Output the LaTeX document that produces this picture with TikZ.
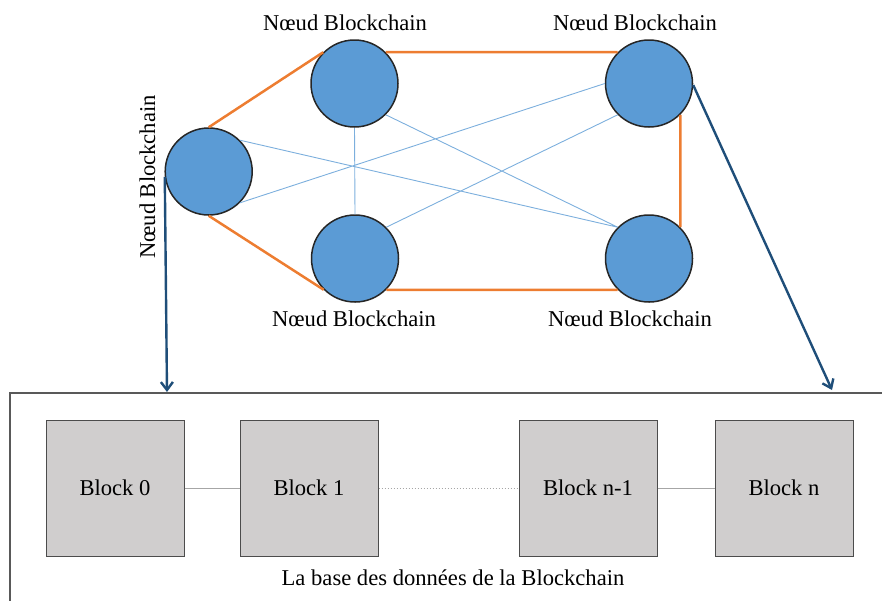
\documentclass[tikz,border=0pt]{standalone}
\usepackage{fontspec}
\setmainfont{Liberation Serif}
\usepackage{tikz}
\usetikzlibrary{shapes,arrows.meta}
\definecolor{nodeblue}{HTML}{5B9BD5}
\definecolor{linkorange}{HTML}{ED7D31}
\definecolor{arrowblue}{HTML}{1F4E79}
\definecolor{blockgray}{HTML}{D0CECE}
\tikzstyle{noeud} = [draw=black!85, fill=nodeblue, circle, line width=0.75pt, minimum size=43.5pt, inner sep=0pt]
\tikzstyle{block} = [draw=black!70, fill=blockgray, minimum width=69pt, minimum height=68pt, inner sep=0pt, line width=0.5pt]
\tikzstyle{lien} = [draw=linkorange, line width=1.25pt]
\tikzstyle{pair} = [draw=nodeblue!80, line width=0.45pt]
\tikzstyle{chaine} = [draw=black!35, line width=0.5pt]
\tikzstyle{fleche} = [draw=arrowblue, line width=1.2pt, ->]
\tikzstyle{cadre} = [draw=black!65, line width=0.7pt]
\tikzstyle{etiq} = [draw=none, anchor=base, inner sep=0pt]

\begin{document}
\begin{tikzpicture}[x=0.5pt,y=-0.5pt,>={Straight Barb[length=4pt,width=6pt]},font={\fontsize{11.3pt}{13pt}\selectfont}]
  \useasboundingbox (0,0) rectangle (882,601);

  % les noeuds du reseau
  \node[noeud] (L) at (208.7,171.5) {};
  \node[noeud] (TL) at (354.5,83.5) {};
  \node[noeud] (TR) at (649,83.5) {};
  \node[noeud] (BL) at (355,258.5) {};
  \node[noeud] (BR) at (649,258.5) {};

  \node[etiq] (lTL) at (345,30) {Nœud Blockchain};
  \node[etiq] (lTR) at (635,30) {Nœud Blockchain};
  \node[etiq] (lBL) at (354,326.7) {Nœud Blockchain};
  \node[etiq] (lBR) at (630,326.7) {Nœud Blockchain};
  \node[etiq, rotate=90] (lL) at (155,177) {Nœud Blockchain};

  % liens
  \draw[pair] (L.north east) -- (BR.north west)
    (L.south east) -- (TR.west)
    (TL.south east) -- (BR.north west)
    (TL.south) -- (BL.north)
    (BL.north east) -- (TR.south west);
  \draw[lien] (L.north) -- (TL.north west)
    (TL.north east) -- (TR.north west)
    (TR.south east) -- (BR.north east)
    (BR.south west) -- (BL.south east)
    (BL.south west) -- (L.south);

  % la base
  \draw[cadre] (882,393) -- (10,393) -- (10,601);
  \node[block] (B0) at (115,488) {Block 0};
  \node[block] (B1) at (309,488) {Block 1};
  \node[block] (Bn1) at (588,488) {Block n-1};
  \node[block] (Bn) at (784,488) {Block n};
  \node[etiq] (base) at (453,585) {La base des données de la Blockchain};

  \draw[chaine] (B0) -- (B1);
  \draw[chaine, densely dotted] (B1) -- (Bn1);
  \draw[chaine] (Bn1) -- (Bn);

  \coordinate (in0) at (167,392);
  \coordinate (inN) at (832,390);
  \draw[fleche] (L.187) -- (in0);
  \draw[fleche] (TR.-2) -- (inN);

\end{tikzpicture}
\end{document}
